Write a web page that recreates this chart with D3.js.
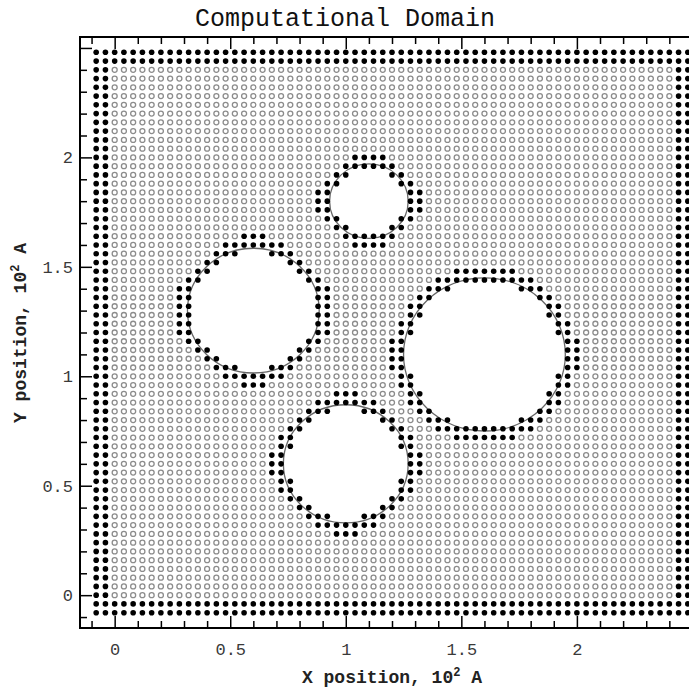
<!DOCTYPE html>
<html>
<head>
<meta charset="utf-8">
<script src="https://cdn.jsdelivr.net/npm/d3@7"></script>
<style>
  html, body { margin: 0; padding: 0; background: #fff; }
  svg { display: block; }
</style>
</head>
<body>
<svg id="chart" width="689" height="691"></svg>
<script>
// Mesh nodes, in units of 10^2 Å: interior 0 .. 2.4 plus two ghost layers each side
const gridStart = -0.08;
const gridStep = 0.04;
const gridCount = 65;
const ghostLayers = 2;

// Spherical obstacles cut out of the domain (centre x, centre y, radius)
const obstacleX = [0.6, 1.1, 1.6, 1.0];
const obstacleY = [1.3, 1.8, 1.1, 0.6];
const obstacleR = [0.285, 0.17, 0.35, 0.27];
// Nodes closer than this to the drawn surface are kept as boundary nodes
const surfaceTolerance = 0.018;

// Axis ticks
const majorTicks = [0, 0.5, 1, 1.5, 2, 2.5];
const majorLabels = ["0", "0.5", "1", "1.5", "2", ""];
const minorTicks = [-0.1, 0.1, 0.2, 0.3, 0.4, 0.6, 0.7, 0.8, 0.9, 1.1, 1.2, 1.3, 1.4,
                    1.6, 1.7, 1.8, 1.9, 2.1, 2.2, 2.3, 2.4];

const svg = d3.select("#chart");
const frameLeft = 80, frameTop = 37, frameW = 624, frameH = 591;

const x = d3.scaleLinear().domain([-0.15, 2.55]).range([frameLeft, frameLeft + frameW]);
const y = d3.scaleLinear().domain([-0.15, 2.55]).range([frameTop + frameH, frameTop]);

const monoFont = "'Liberation Mono', 'Courier New', 'DejaVu Sans Mono', monospace";

// Classify every node: solid (ghost / near-surface), open (interior) or removed (inside an obstacle)
const nodeCoord = d3.range(gridCount).map(k => +(gridStart + k * gridStep).toFixed(4));
function distToSurface(px, py) {
  let best = Infinity;
  obstacleX.forEach((cx, n) => {
    const d = Math.hypot(px - cx, py - obstacleY[n]) - obstacleR[n];
    if (d < best) best = d;
  });
  return best;
}
const removed = (i, j) =>
  i >= 0 && j >= 0 && i < gridCount && j < gridCount &&
  distToSurface(nodeCoord[i], nodeCoord[j]) < -surfaceTolerance;

const nodes = [];
for (let j = 0; j < gridCount; j++) {
  for (let i = 0; i < gridCount; i++) {
    const ghost = i < ghostLayers || j < ghostLayers ||
                  i >= gridCount - ghostLayers || j >= gridCount - ghostLayers;
    if (!ghost && removed(i, j)) continue;
    let solid = ghost;
    for (let s = 1; s <= ghostLayers && !solid; s++) {
      solid = removed(i + s, j) || removed(i - s, j) ||
              removed(i, j + s) || removed(i, j - s);
    }
    nodes.push({ px: nodeCoord[i], py: nodeCoord[j], solid });
  }
}

// Obstacle outlines
svg.append("g")
  .selectAll("ellipse")
  .data(obstacleX.map((cx, n) => ({ cx, cy: obstacleY[n], r: obstacleR[n] })))
  .join("ellipse")
  .attr("cx", d => x(d.cx))
  .attr("cy", d => y(d.cy))
  .attr("rx", d => x(d.cx + d.r) - x(d.cx))
  .attr("ry", d => y(d.cy) - y(d.cy + d.r))
  .attr("fill", "none")
  .attr("stroke", "#666")
  .attr("stroke-width", 1.3);

// Open interior nodes
svg.append("g")
  .selectAll("circle")
  .data(nodes.filter(d => !d.solid))
  .join("circle")
  .attr("cx", d => x(d.px))
  .attr("cy", d => y(d.py))
  .attr("r", 2.5)
  .attr("fill", "#fff")
  .attr("stroke", "#8c8c8c")
  .attr("stroke-width", 1.3);

// Solid nodes
svg.append("g")
  .selectAll("circle")
  .data(nodes.filter(d => d.solid))
  .join("circle")
  .attr("cx", d => x(d.px))
  .attr("cy", d => y(d.py))
  .attr("r", 2.8)
  .attr("fill", "#000");

// Axes with inward-pointing ticks
function styleAxis(g) {
  g.select(".domain").remove();
  g.selectAll(".tick line").attr("stroke", "#000").attr("stroke-width", 1.5);
  g.selectAll("text").attr("font-family", monoFont).attr("font-size", 17).attr("fill", "#3a3a3a");
}
const labelOf = v => majorLabels[majorTicks.indexOf(v)];

svg.append("g").attr("transform", `translate(0,${frameTop + frameH})`)
  .call(d3.axisBottom(x).tickValues(minorTicks).tickSize(-7).tickFormat(""))
  .call(styleAxis);
svg.append("g").attr("transform", `translate(0,${frameTop + frameH})`)
  .call(d3.axisBottom(x).tickValues(majorTicks).tickSize(-12).tickPadding(15).tickFormat(labelOf))
  .call(styleAxis);

svg.append("g").attr("transform", `translate(0,${frameTop})`)
  .call(d3.axisTop(x).tickValues(minorTicks).tickSize(-7).tickFormat(""))
  .call(styleAxis);
svg.append("g").attr("transform", `translate(0,${frameTop})`)
  .call(d3.axisTop(x).tickValues(majorTicks).tickSize(-12).tickFormat(""))
  .call(styleAxis);

svg.append("g").attr("transform", `translate(${frameLeft},0)`)
  .call(d3.axisLeft(y).tickValues(minorTicks).tickSize(-7).tickFormat(""))
  .call(styleAxis);
svg.append("g").attr("transform", `translate(${frameLeft},0)`)
  .call(d3.axisLeft(y).tickValues(majorTicks).tickSize(-12).tickPadding(7).tickFormat(labelOf))
  .call(styleAxis);

// Frame
svg.append("rect")
  .attr("x", frameLeft).attr("y", frameTop)
  .attr("width", frameW).attr("height", frameH)
  .attr("fill", "none").attr("stroke", "#000").attr("stroke-width", 2);

// Title
svg.append("text")
  .attr("x", 345).attr("y", 26)
  .attr("text-anchor", "middle")
  .attr("font-family", monoFont).attr("font-size", 25)
  .attr("fill", "#111")
  .text("Computational Domain");

// Axis titles
function axisTitle(sel, letter) {
  sel.attr("font-family", monoFont).attr("font-size", 18).attr("font-weight", "bold")
     .attr("fill", "#222").attr("text-anchor", "middle");
  sel.append("tspan").text(letter + " position, 10");
  sel.append("tspan").attr("dy", -7).attr("font-size", 12).text("2");
  sel.append("tspan").attr("dy", 7).text(" A");
}
svg.append("text").attr("x", 392).attr("y", 683).call(axisTitle, "X");
svg.append("text")
  .attr("transform", "translate(26,333) rotate(-90)")
  .call(axisTitle, "Y");
</script>
</body>
</html>
